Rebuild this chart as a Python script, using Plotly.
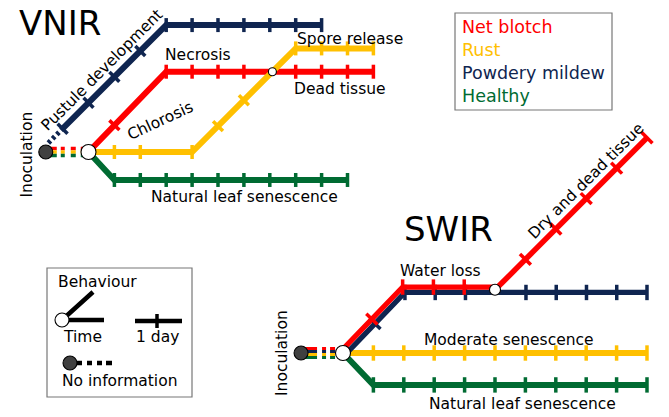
import math
import plotly.graph_objects as go

W, H = 669, 417

# ---------------- data (days after inoculation, response level in days) -------------
# VNIR panel
vnir_netblotch_days = [0, 3, 11]
vnir_netblotch_level = [0, 3.1, 3.1]
vnir_netblotch_ticks = [1, 3, 4, 5, 6, 8, 9, 10, 11]

vnir_rust_days = [0, 4, 8, 11]
vnir_rust_level = [0, 0, 4, 4]
vnir_rust_ticks = [1, 2, 4, 5, 6, 8, 9, 10, 11]

vnir_mildew_days = [-1, 3, 9]
vnir_mildew_level = [0.9, 4.9, 4.9]
vnir_mildew_ticks = [-1, 0, 1, 2, 3, 4, 5, 6, 7, 8, 9]
vnir_mildew_nodata_days = [-1.55, -1]
vnir_mildew_nodata_level = [0.35, 0.9]

vnir_healthy_days = [0, 1, 10]
vnir_healthy_level = [0, -1.08, -1.08]
vnir_healthy_ticks = [1, 2, 3, 4, 5, 6, 7, 8, 9, 10]

vnir_inoculation_day = -1.65
vnir_crossing = (7.1, 3.1)

# SWIR panel
swir_netblotch_days = [0, 2, 5]
swir_netblotch_level = [0, 2.08, 2.08]
swir_netblotch_ticks = [1, 2, 3, 4]
swir_netblotch_dry_days = [5, 10]
swir_netblotch_dry_level = [2.08, 7.08]
swir_netblotch_dry_ticks = [6, 7, 8, 9, 10]

swir_mildew_days = [0, 2, 10]
swir_mildew_level = [0, 2.08, 2.08]
swir_mildew_ticks = [1, 2, 3, 4, 6, 7, 8, 9, 10]

swir_rust_days = [0, 10]
swir_rust_level = [0, 0]
swir_rust_ticks = [1, 2, 3, 4, 5, 6, 7, 8, 9, 10]

swir_healthy_days = [0, 1, 10]
swir_healthy_level = [0, -1.05, -1.05]
swir_healthy_ticks = [1, 2, 3, 4, 5, 6, 7, 8, 9, 10]

swir_inoculation_day = -1.38
swir_branch = (5, 2.08)

legend_names = ["Net blotch", "Rust", "Powdery mildew", "Healthy"]

# ---------------- styling / layout -------------
RED = "#FF0000"
YELLOW = "#FFC000"
NAVY = "#0F2550"
GREEN = "#006B32"
FONT = "DejaVu Sans"

VNIR = dict(x0=88.5, y0=152, u=25.9)
SWIR = dict(x0=343, y0=353, u=30.4)

fig = go.Figure()


def to_px(panel, days, levels):
    xs = [panel["x0"] + d * panel["u"] for d in days]
    ys = [panel["y0"] - l * panel["u"] for l in levels]
    return xs, ys


def offset_path(xs, ys, d):
    n = len(xs)
    normals = []
    for i in range(n - 1):
        dx, dy = xs[i + 1] - xs[i], ys[i + 1] - ys[i]
        L = math.hypot(dx, dy)
        normals.append((dy / L, -dx / L))
    ox, oy = [], []
    for i in range(n):
        if i == 0:
            nx, ny, s = normals[0][0], normals[0][1], 1
        elif i == n - 1:
            nx, ny, s = normals[-1][0], normals[-1][1], 1
        else:
            a, b = normals[i - 1], normals[i]
            mx, my = a[0] + b[0], a[1] + b[1]
            ml = math.hypot(mx, my)
            nx, ny = mx / ml, my / ml
            s = 1 / (nx * a[0] + ny * a[1])
        ox.append(xs[i] + nx * d * s)
        oy.append(ys[i] + ny * d * s)
    return ox, oy


def draw_route(panel, days, levels, ticks, color, width=6, offset=0, tick_size=10):
    xs, ys = to_px(panel, days, levels)
    if offset:
        xs, ys = offset_path(xs, ys, offset)
    fig.add_trace(go.Scatter(x=xs, y=ys, mode="lines",
                             line=dict(color=color, width=width),
                             hoverinfo="skip"))
    tx, ty, ta = [], [], []
    for t in ticks:
        for i in range(len(days) - 1):
            if days[i] <= t <= days[i + 1] + 1e-9:
                break
        f = (t - days[i]) / (days[i + 1] - days[i])
        px = xs[i] + f * (xs[i + 1] - xs[i])
        py = ys[i] + f * (ys[i + 1] - ys[i])
        ang = math.degrees(math.atan2(ys[i + 1] - ys[i], xs[i + 1] - xs[i]))
        # at a corner prefer the horizontal orientation
        for j in range(len(days)):
            if abs(days[j] - t) < 1e-9:
                adj = []
                if j > 0:
                    adj.append(levels[j] == levels[j - 1])
                if j < len(days) - 1:
                    adj.append(levels[j] == levels[j + 1])
                if any(adj):
                    ang = 0
        tx.append(px)
        ty.append(py)
        ta.append(ang)
    fig.add_trace(go.Scatter(x=tx, y=ty, mode="markers",
                             marker=dict(symbol="line-ns", size=tick_size, angle=ta,
                                         line=dict(color=color, width=3.5)),
                             hoverinfo="skip"))


def draw_stub(panel, day_start, colors, stripe, dash):
    xs, ys = to_px(panel, [day_start, 0], [0, 0])
    k = len(colors)
    for i, c in enumerate(colors):
        off = (i - (k - 1) / 2) * stripe
        fig.add_trace(go.Scatter(x=xs, y=[ys[0] + off, ys[1] + off], mode="lines",
                                 line=dict(color=c, width=stripe + 0.2, dash=dash),
                                 hoverinfo="skip"))


def node(x, y, size, fill):
    fig.add_trace(go.Scatter(x=[x], y=[y], mode="markers",
                             marker=dict(symbol="circle", size=size, color=fill,
                                         line=dict(color="black", width=1.1)),
                             hoverinfo="skip"))


def label(x, y, text, size=15.5, angle=0, color="black", xanchor="center"):
    fig.add_annotation(x=x, y=y, xref="x", yref="y", text=text, showarrow=False,
                       textangle=angle, xanchor=xanchor, yanchor="middle",
                       font=dict(family=FONT, size=size, color=color))


# ---------------- VNIR -------------
draw_stub(VNIR, vnir_inoculation_day, [RED, YELLOW, GREEN], 3.5,
          "11px,4px,4px,6px,5px,5px,4px,20px")
mx, my = to_px(VNIR, vnir_mildew_nodata_days, vnir_mildew_nodata_level)
fig.add_trace(go.Scatter(x=mx, y=my, mode="lines",
                         line=dict(color=NAVY, width=5, dash="3px,3px"), hoverinfo="skip"))
draw_route(VNIR, vnir_mildew_days, vnir_mildew_level, vnir_mildew_ticks, NAVY)
draw_route(VNIR, vnir_healthy_days, vnir_healthy_level, vnir_healthy_ticks, GREEN)
draw_route(VNIR, vnir_netblotch_days, vnir_netblotch_level, vnir_netblotch_ticks, RED)
draw_route(VNIR, vnir_rust_days, vnir_rust_level, vnir_rust_ticks, YELLOW)

ix, iy = to_px(VNIR, [vnir_inoculation_day], [0])
node(ix[0], iy[0], 14, "#404040")
nx_, ny_ = to_px(VNIR, [0], [0])
node(nx_[0], ny_[0], 15, "white")
cx, cy = to_px(VNIR, [vnir_crossing[0]], [vnir_crossing[1]])
node(cx[0], cy[0], 8, "white")

label(60, 23, "VNIR", size=34)
label(102, 70, "Pustule development", angle=-45)
label(197.5, 55, "Necrosis")
label(160, 121, "Chlorosis", angle=-25)
label(350, 39, "Spore release")
label(340, 89, "Dead tissue")
label(244, 197, "Natural leaf senescence")
label(26, 154.5, "Inoculation", angle=-90)

# ---------------- SWIR -------------
draw_stub(SWIR, swir_inoculation_day, [RED, NAVY, YELLOW, GREEN], 3.0,
          "16px,5px,4px,4px,5px,20px")
draw_route(SWIR, swir_healthy_days, swir_healthy_level, swir_healthy_ticks, GREEN, tick_size=11)
draw_route(SWIR, swir_rust_days, swir_rust_level, swir_rust_ticks, YELLOW, tick_size=11)
draw_route(SWIR, swir_mildew_days, swir_mildew_level, swir_mildew_ticks, NAVY,
           width=5.2, offset=-2.7, tick_size=11)
draw_route(SWIR, swir_netblotch_days, swir_netblotch_level, swir_netblotch_ticks, RED,
           width=5.2, offset=2.7, tick_size=11)
draw_route(SWIR, swir_netblotch_dry_days, swir_netblotch_dry_level, swir_netblotch_dry_ticks,
           RED, width=5.5, tick_size=11)

ix, iy = to_px(SWIR, [swir_inoculation_day], [0])
node(ix[0], iy[0], 14, "#404040")
nx_, ny_ = to_px(SWIR, [0], [0])
node(nx_[0], ny_[0], 15, "white")
bx, by = to_px(SWIR, [swir_branch[0]], [swir_branch[1]])
node(bx[0], by[0], 11, "white")

label(448, 229, "SWIR", size=34)
label(440, 271, "Water loss")
label(509, 340, "Moderate senescence")
label(522, 404, "Natural leaf senescence")
label(586, 181, "Dry and dead tissue", angle=-45)
label(282, 353, "Inoculation", angle=-90)

# ---------------- colour legend -------------
fig.add_shape(type="rect", x0=455, y0=13, x1=612, y1=110, xref="x", yref="y",
              line=dict(color="#777777", width=1.2), fillcolor="rgba(0,0,0,0)")
for name, col, yy in zip(legend_names, [RED, YELLOW, NAVY, GREEN], [27, 50, 73, 96]):
    label(460, yy, name, size=17.5, color=col, xanchor="left")

# ---------------- symbol legend -------------
fig.add_shape(type="rect", x0=47, y0=268, x1=192, y1=397, xref="x", yref="y",
              line=dict(color="#777777", width=1.2), fillcolor="rgba(0,0,0,0)")
label(97, 282, "Behaviour")
fig.add_trace(go.Scatter(x=[93, 62, 104], y=[292, 320, 320], mode="lines",
                         line=dict(color="black", width=4.5), hoverinfo="skip"))
node(62, 320, 14, "white")
label(82.5, 337, "Time")
fig.add_trace(go.Scatter(x=[135, 182], y=[321, 321], mode="lines",
                         line=dict(color="black", width=4.5), hoverinfo="skip"))
fig.add_trace(go.Scatter(x=[157], y=[321], mode="markers",
                         marker=dict(symbol="line-ns", size=10, line=dict(color="black", width=3.5)),
                         hoverinfo="skip"))
label(157, 337, "1 day")
fig.add_trace(go.Scatter(x=[70, 112], y=[363, 363], mode="lines",
                         line=dict(color="black", width=4.5, dash="12px,5px,5px,5px,5px,4px,6px,20px"),
                         hoverinfo="skip"))
node(70, 363, 14, "#404040")
label(119, 381, "No information")

fig.update_layout(
    width=W, height=H, margin=dict(l=0, r=0, t=0, b=0),
    paper_bgcolor="white", plot_bgcolor="white", showlegend=False,
    xaxis=dict(range=[0, W], visible=False, fixedrange=True),
    yaxis=dict(range=[H, 0], visible=False, fixedrange=True),
)
fig.write_html("out.html", config={"displayModeBar": False, "staticPlot": True},
               post_script="document.body.style.margin='0px';document.body.style.overflow='hidden';")
